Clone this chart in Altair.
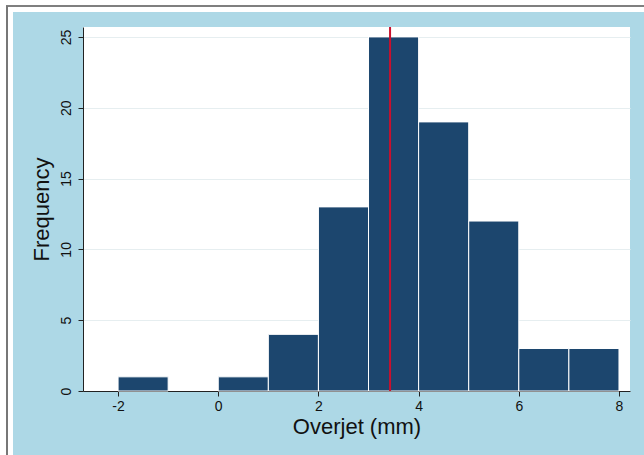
import altair as alt
import pandas as pd

bin_start = [-2, 0, 1, 2, 3, 4, 5, 6, 7]
bin_end = [-1, 1, 2, 3, 4, 5, 6, 7, 8]
counts = [1, 1, 4, 13, 25, 19, 12, 3, 3]
mean_line = [3.43]
x_ticks = [-2, 0, 2, 4, 6, 8]
y_ticks = [0, 5, 10, 15, 20, 25]

df = pd.DataFrame({"start": bin_start, "end": bin_end, "count": counts})
df_line = pd.DataFrame({"x": mean_line})

W, H = 547, 364
PL, PT = 83, 27
FONT = "Liberation Sans"

xscale = alt.Scale(domain=[-2.7, 8.22], nice=False, zero=False)
yscale = alt.Scale(domain=[0, 25.7], nice=False, zero=True)

# decorative frame (white strip + gray border line) around the light-blue region
top_strip = alt.Chart(df_line).mark_rect(color="white", clip=False).encode(
    x=alt.value(-PL), x2=alt.value(W + 40), y=alt.value(-PT), y2=alt.value(-PT + 12)
)
left_strip = alt.Chart(df_line).mark_rect(color="white", clip=False).encode(
    x=alt.value(-PL), x2=alt.value(-PL + 13), y=alt.value(-PT), y2=alt.value(H + 80)
)
top_border = alt.Chart(df_line).mark_rule(color="#555555", strokeWidth=1.5, clip=False).encode(
    x=alt.value(-PL + 6), x2=alt.value(W + 40), y=alt.value(-PT + 6)
)
left_border = alt.Chart(df_line).mark_rule(color="#777777", strokeWidth=2, clip=False).encode(
    x=alt.value(-PL + 7), y=alt.value(-PT + 6), y2=alt.value(H + 80)
)

bars = alt.Chart(df).mark_rect(color="#1c466e", stroke="white", strokeWidth=1).encode(
    x=alt.X("start:Q", scale=xscale, axis=alt.Axis(
        values=x_ticks, title="Overjet (mm)", grid=False, tickSize=5,
        labelExpr="toString(datum.value)",
        labelFontSize=14, titleFontSize=22, labelPadding=3, titlePadding=3,
        domainColor="#222222", tickColor="#222222", labelColor="#111111",
        titleColor="#111111", titleFontWeight="normal", labelFont=FONT, titleFont=FONT,
        labelFlush=False)),
    x2="end:Q",
    y=alt.Y("count:Q", scale=yscale, axis=alt.Axis(
        values=y_ticks, title="Frequency", grid=True, gridColor="#e6eef0", gridWidth=1,
        tickSize=5, labelAngle=270, labelAlign="center", labelBaseline="bottom",
        labelFontSize=14, titleFontSize=22, labelPadding=5, titlePadding=6,
        domainColor="#222222", tickColor="#222222", labelColor="#111111",
        titleColor="#111111", titleFontWeight="normal", labelFont=FONT, titleFont=FONT,
        labelFlush=False)),
    y2=alt.datum(0),
)

line = alt.Chart(df_line).mark_rule(color="#c8102e", strokeWidth=2).encode(
    x=alt.X("x:Q", scale=xscale),
    y=alt.value(0), y2=alt.value(H),
)

chart = alt.layer(top_strip, left_strip, top_border, left_border, bars, line).properties(
    width=W, height=H,
    background="#add8e6",
    padding={"left": PL, "top": PT, "right": 644 - PL - W, "bottom": 455 - PT - H},
    autosize=alt.AutoSizeParams(type="none"),
).configure_view(fill="white", stroke=None)

chart.save("out.html", embed_options={"renderer": "svg", "actions": False})
